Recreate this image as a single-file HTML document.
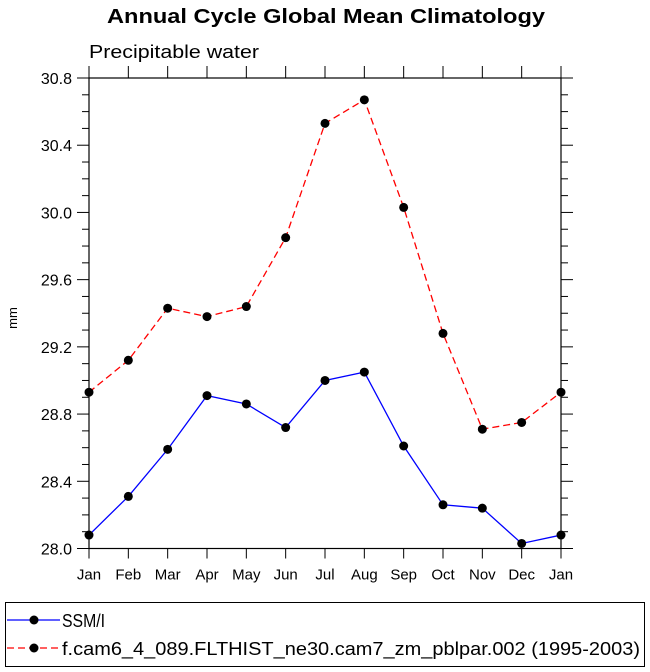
<!DOCTYPE html>
<html><head><meta charset="utf-8"><style>
body{margin:0;background:#fff;}
svg{display:block;font-family:"Liberation Sans",Arial,sans-serif;}
</style></head><body>
<svg id="c" width="650" height="672">
<text x="107" y="23" textLength="438" lengthAdjust="spacingAndGlyphs" font-size="20" font-weight="bold">Annual Cycle Global Mean Climatology</text>
<text x="89" y="58" textLength="170" lengthAdjust="spacingAndGlyphs" font-size="18">Precipitable water</text>
<text transform="translate(17,318) rotate(-90)" text-anchor="middle" font-size="13">mm</text>
<g id="axes"></g>
<g id="series"></g>
<rect x="5.5" y="602.5" width="639" height="64" fill="none" stroke="#000" stroke-width="1"/>
<g>
<line x1="7" y1="620" x2="60" y2="620" stroke="#00f" stroke-width="1.3"/>
<circle cx="34" cy="620" r="4.5" fill="#000"/>
<text x="62" y="627" textLength="43" lengthAdjust="spacingAndGlyphs" font-size="18">SSM/I</text>
</g>
<g>
<line x1="7" y1="648" x2="60" y2="648" stroke="#f00" stroke-width="1.3" stroke-dasharray="7,4"/>
<circle cx="34" cy="648" r="4.5" fill="#000"/>
<text x="62" y="655" textLength="578" lengthAdjust="spacingAndGlyphs" font-size="18">f.cam6_4_089.FLTHIST_ne30.cam7_zm_pblpar.002 (1995-2003)</text>
</g>
</svg>
<script>
const months=["Jan","Feb","Mar","Apr","May","Jun","Jul","Aug","Sep","Oct","Nov","Dec","Jan"];
const ssmi=[28.08,28.31,28.59,28.91,28.86,28.72,29.00,29.05,28.61,28.26,28.24,28.03,28.08];
const model=[28.93,29.12,29.43,29.38,29.44,29.85,30.53,30.67,30.03,29.28,28.71,28.75,28.93];
const yTicks=["28.0","28.4","28.8","29.2","29.6","30.0","30.4","30.8"];
const L=89,R=561,T=78,B=548.5,yMin=28.0,yMax=30.8;
const NS="http://www.w3.org/2000/svg";
function xs(i){return L+i*(R-L)/(months.length-1);}
function ys(v){return B-(v-yMin)/(yMax-yMin)*(B-T);}
function mk(tag,attrs,parent){const e=document.createElementNS(NS,tag);for(const k in attrs)e.setAttribute(k,attrs[k]);parent.appendChild(e);return e;}
const ax=document.getElementById('axes');
const fr=mk('rect',{x:L,y:T,width:R-L,height:B-T,fill:'none',stroke:'#000','stroke-width':1.2},ax);


months.forEach((m,i)=>{
  const x=xs(i);
  mk('line',{x1:x,y1:B,x2:x,y2:B+10,stroke:'#000','stroke-width':1},ax);
  mk('line',{x1:x,y1:T,x2:x,y2:T-12,stroke:'#000','stroke-width':1},ax);
  const t=mk('text',{x:x,y:B+31,'text-anchor':'middle','font-size':15},ax);
  t.textContent=m;
  
  
});
yTicks.forEach((s,i)=>{
  const v=parseFloat(s),y=ys(v);
  mk('line',{x1:L-12,y1:y,x2:L,y2:y,stroke:'#000','stroke-width':1},ax);
  mk('line',{x1:R,y1:y,x2:R+12,y2:y,stroke:'#000','stroke-width':1},ax);
  const t=mk('text',{x:72,y:y+6,'text-anchor':'end','font-size':16},ax);
  t.textContent=s;
  
  
  if(i<yTicks.length-1){for(let k=1;k<4;k++){const yy=ys(v+k*0.1);
    mk('line',{x1:L-7,y1:yy,x2:L,y2:yy,stroke:'#000','stroke-width':1},ax);
    mk('line',{x1:R,y1:yy,x2:R+7,y2:yy,stroke:'#000','stroke-width':1},ax);}}
});
const sg=document.getElementById('series');
function drawSeries(vals,color,dash,name){
  const pl=mk('polyline',{points:vals.map((v,i)=>xs(i)+','+ys(v)).join(' '),fill:'none',stroke:color,'stroke-width':1.3},sg);
  if(dash)pl.setAttribute('stroke-dasharray',dash);
  
  
  vals.forEach((v,i)=>{
    const c=mk('circle',{cx:xs(i),cy:ys(v),r:4.5,fill:'#000'},sg);
    
    
  });
}
drawSeries(model,'#f00','7,4','model');
drawSeries(ssmi,'#00f',null,'ssmi');
</script>
</body></html>
